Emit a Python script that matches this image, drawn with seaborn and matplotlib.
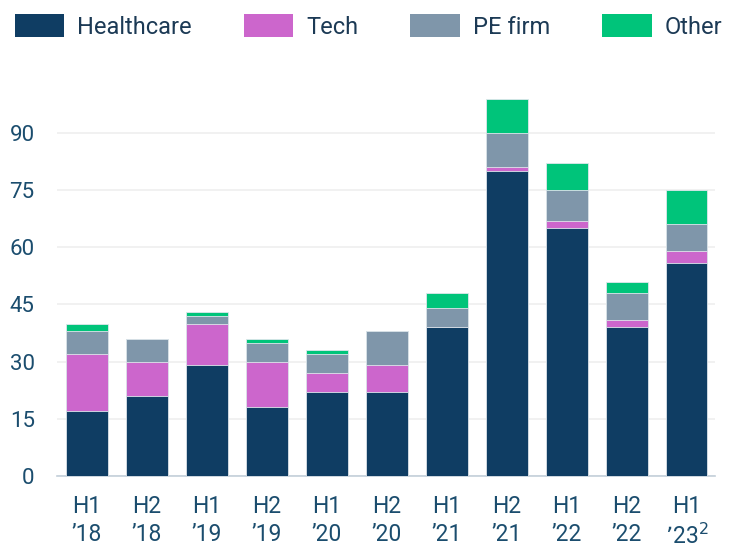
import matplotlib
matplotlib.use("Agg")
import matplotlib.pyplot as plt
import matplotlib.patches as mpatches
import seaborn as sns
import pandas as pd
import numpy as np

periods = ["H1\n\u201918", "H2\n\u201918", "H1\n\u201919", "H2\n\u201919", "H1\n\u201920",
           "H2\n\u201920", "H1\n\u201921", "H2\n\u201921", "H1\n\u201922", "H2\n\u201922",
           "H1\n\u201923$^{2}$"]
healthcare = [17, 21, 29, 18, 22, 22, 39, 80, 65, 39, 56]
tech = [15, 9, 11, 12, 5, 7, 0, 1, 2, 2, 3]
pe_firm = [6, 6, 2, 5, 5, 9, 5, 9, 8, 7, 7]
other = [2, 0, 1, 1, 1, 0, 4, 9, 7, 3, 9]

series_names = ["Healthcare", "Tech", "PE firm", "Other"]
colors = ["#0f3d63", "#cc66cc", "#7f96aa", "#00c47a"]
tick_color = "#1b4d6e"
legend_color = "#1c3a55"

sns.set_theme(style="white")
plt.rcParams["font.family"] = ["Roboto", "DejaVu Sans"]

df = pd.DataFrame({"period": periods, "Healthcare": healthcare, "Tech": tech,
                   "PE firm": pe_firm, "Other": other})
cum = df[series_names].cumsum(axis=1)

fig = plt.figure(figsize=(7.30, 5.49), dpi=100)
ax = fig.add_axes([0.078, 0.133, 0.901, 0.729])

# stacked bars drawn as overlapping cumulative totals, tallest first
for name, col in reversed(list(zip(series_names, colors))):
    sns.barplot(x=df["period"], y=cum[name], color=col, width=0.7, ax=ax,
                edgecolor="#dfe6ec", linewidth=0.6, saturation=1, zorder=3)

ax.set_ylim(0, 105)
ax.set_xlim(-0.5, len(periods) - 0.53)
ax.set_yticks(np.arange(0, 91, 15))
ax.yaxis.grid(True, color="#efefef", linewidth=1.2, zorder=0)
ax.set_axisbelow(True)
for s in ["top", "right", "left"]:
    ax.spines[s].set_visible(False)
ax.spines["bottom"].set_color("#c3cfd9")
ax.spines["bottom"].set_linewidth(1.2)
ax.set_xlabel("")
ax.set_ylabel("")
ax.tick_params(axis="y", length=0, pad=16, labelsize=16, labelcolor=tick_color)
ax.tick_params(axis="x", length=0, pad=14, labelsize=16.5, labelcolor=tick_color)
for lab in ax.get_xticklabels():
    lab.set_linespacing(1.25)

handles = [mpatches.Patch(facecolor=c, edgecolor="none", label=n)
           for n, c in zip(series_names, colors)]
fig.legend(handles=handles, loc="upper left", bbox_to_anchor=(0.02, 0.974), ncol=4,
           frameon=False, fontsize=17, handlelength=2.1, handleheight=1.1,
           handletextpad=0.55, columnspacing=2.2, borderpad=0, borderaxespad=0,
           labelcolor=legend_color)

fig.savefig("out.png", dpi=100)
